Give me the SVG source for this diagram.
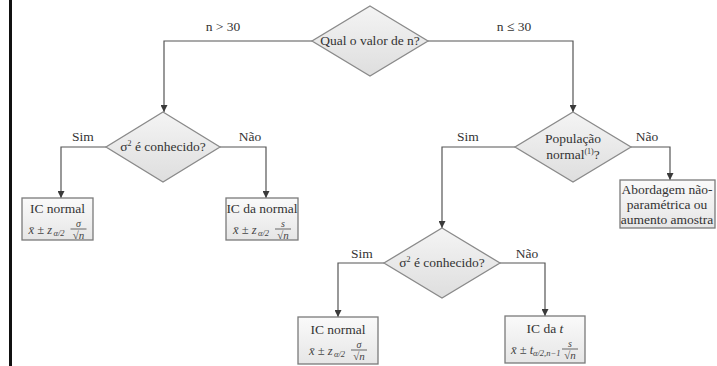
<svg xmlns="http://www.w3.org/2000/svg" width="717" height="366" viewBox="0 0 717 366">
<defs>
<linearGradient id="gd" x1="0" y1="0" x2="0" y2="1"><stop offset="0" stop-color="#f4f4f4"/><stop offset="1" stop-color="#dedede"/></linearGradient>
<linearGradient id="gb" x1="0" y1="0" x2="0" y2="1"><stop offset="0" stop-color="#fafafa"/><stop offset="1" stop-color="#e6e6e6"/></linearGradient>
<marker id="ah" viewBox="0 0 10 10" refX="10" refY="5" markerWidth="7" markerHeight="7" markerUnits="userSpaceOnUse" orient="auto"><path d="M0,0 L10,5 L0,10 z" fill="#3a3a3a"/></marker>
</defs>
<style>
.dia{fill:url(#gd);stroke:#8a8a8a;stroke-width:1.3}
.box{fill:url(#gb);stroke:#7a7a7a;stroke-width:1.3}
text{font-family:'Liberation Serif','Tinos','DejaVu Serif',serif}
.t{font-size:13.5px;fill:#333;text-anchor:middle}
.f{font-size:12.5px;fill:#444;font-style:italic}
.fs{font-size:8.5px;fill:#444;font-style:italic}
.fn{font-size:10px;fill:#444;font-style:italic;text-anchor:middle}
.fd{font-size:11px;fill:#444;text-anchor:middle}
.c{fill:none;stroke:#555;stroke-width:1.2;marker-end:url(#ah)}
.fb{stroke:#444;stroke-width:0.8}
</style>
<rect width="717" height="366" fill="#fff"/>
<rect x="9" y="0" width="3" height="366" fill="#111"/>

<g id="connectors">
<polyline class="c" points="312,41 164,41 164,112"/>
<polyline class="c" points="428,41 573,41 573,112"/>
<polyline class="c" points="106,147 61,147 61,198"/>
<polyline class="c" points="220,147 266,147 266,198"/>
<polyline class="c" points="515,147 442,147 442,228"/>
<polyline class="c" points="631,147 670,147 670,180"/>
<polyline class="c" points="384,263 338,263 338,317"/>
<polyline class="c" points="500,263 545,263 545,316"/>
<text class="t" x="223" y="31">n &gt; 30</text>
<text class="t" x="514" y="31">n ≤ 30</text>
<text class="t" x="83" y="141">Sim</text>
<text class="t" x="250" y="141">Não</text>
<text class="t" x="468" y="141">Sim</text>
<text class="t" x="647" y="141">Não</text>
<text class="t" x="362" y="258">Sim</text>
<text class="t" x="527" y="258">Não</text>
</g>

<g id="d1">
<polygon class="dia" points="370,6 428,41 370,76 312,41"/>
<text class="t" x="370" y="45">Qual o valor de n?</text>
</g>
<g id="d2">
<polygon class="dia" points="163,112 220,147 163,182 106,147"/>
<text class="t" x="163" y="151">σ<tspan font-size="8" dy="-5">2</tspan><tspan dy="5"> é conhecido?</tspan></text>
</g>
<g id="d3">
<polygon class="dia" points="573,112 631,147 573,182 515,147"/>
<text class="t" x="573" y="143">População</text>
<text class="t" x="573" y="159">normal<tspan font-size="8" dy="-5">(1)</tspan><tspan dy="5">?</tspan></text>
</g>
<g id="d4">
<polygon class="dia" points="442,228 500,263 442,298 384,263"/>
<text class="t" x="442" y="267">σ<tspan font-size="8" dy="-5">2</tspan><tspan dy="5"> é conhecido?</tspan></text>
</g>

<g id="b1">
<rect class="box" x="22" y="198" width="71" height="42"/>
<text class="t" x="57.5" y="213">IC normal</text>
<text class="f" x="28.5" y="234">x̄ ± z</text>
<text class="fs" x="53.5" y="236">α/2</text>
<text class="fn" x="78.5" y="227">σ</text>
<line class="fb" x1="70.5" y1="229" x2="86.5" y2="229"/>
<text class="fd" x="78.5" y="239">√<tspan font-style="italic">n</tspan></text>
</g>
<g id="b2">
<rect class="box" x="226" y="198" width="72" height="42"/>
<text class="t" x="262" y="213">IC da normal</text>
<text class="f" x="233" y="234">x̄ ± z</text>
<text class="fs" x="258" y="236">α/2</text>
<text class="fn" x="283" y="227">s</text>
<line class="fb" x1="275" y1="229" x2="291" y2="229"/>
<text class="fd" x="283" y="239">√<tspan font-style="italic">n</tspan></text>
</g>
<g id="b3">
<rect class="box" x="620" y="180" width="95" height="48"/>
<text class="t" x="667" y="194">Abordagem não-</text>
<text class="t" x="667" y="209">paramétrica ou</text>
<text class="t" x="667" y="224">aumento amostra</text>
</g>
<g id="b4">
<rect class="box" x="298" y="317" width="80" height="47"/>
<text class="t" x="338" y="334">IC normal</text>
<text class="f" x="309" y="355">x̄ ± z</text>
<text class="fs" x="334" y="357">α/2</text>
<text class="fn" x="359" y="348">σ</text>
<line class="fb" x1="351" y1="350" x2="367" y2="350"/>
<text class="fd" x="359" y="360">√<tspan font-style="italic">n</tspan></text>
</g>
<g id="b5">
<rect class="box" x="505" y="316" width="80" height="47"/>
<text class="t" x="545" y="333">IC da <tspan font-style="italic">t</tspan></text>
<text class="f" x="511" y="354">x̄ ± t</text>
<text class="fs" x="533" y="356">α/2,n−1</text>
<text class="fn" x="570" y="347">s</text>
<line class="fb" x1="562" y1="349" x2="578" y2="349"/>
<text class="fd" x="570" y="359">√<tspan font-style="italic">n</tspan></text>
</g>
</svg>
